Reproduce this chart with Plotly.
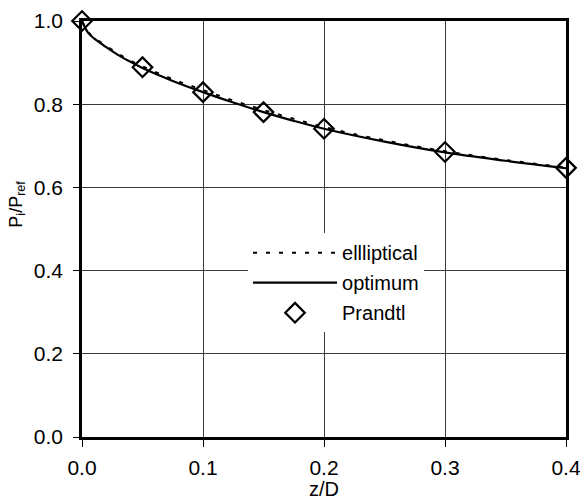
import plotly.graph_objects as go

# Data
x_curve = [0.0, 0.005, 0.01, 0.02, 0.03, 0.04, 0.05, 0.075, 0.1, 0.125, 0.15, 0.175, 0.2, 0.25, 0.3, 0.35, 0.4]
y_optimum = [1.0, 0.972, 0.958, 0.937, 0.918, 0.902, 0.887, 0.856, 0.829, 0.804, 0.781, 0.760, 0.741, 0.710, 0.684, 0.664, 0.646]
y_elliptical = [1.0, 0.974, 0.960, 0.940, 0.921, 0.905, 0.891, 0.860, 0.834, 0.809, 0.786, 0.765, 0.745, 0.713, 0.687, 0.666, 0.648]

x_prandtl = [0.0, 0.05, 0.1, 0.15, 0.2, 0.3, 0.4]
y_prandtl = [1.0, 0.889, 0.829, 0.781, 0.741, 0.685, 0.647]

x_ticks = [0.0, 0.1, 0.2, 0.3, 0.4]
x_ticklabels = ["0.0", "0.1", "0.2", "0.3", "0.4"]
y_ticks = [0.0, 0.2, 0.4, 0.6, 0.8, 1.0]
y_ticklabels = ["0.0", "0.2", "0.4", "0.6", "0.8", "1.0"]

FONT = "Liberation Sans, Arial, Helvetica, sans-serif"

fig = go.Figure()
fig.add_trace(go.Scatter(
    x=x_curve, y=y_elliptical, mode="lines", name="ellliptical", legendgroup="a",
    line=dict(color="black", width=2, dash="4px,9px", shape="spline"),
))
fig.add_trace(go.Scatter(
    x=x_curve, y=y_optimum, mode="lines", name="optimum", legendgroup="b",
    line=dict(color="black", width=2.2, shape="spline"),
))
fig.add_trace(go.Scatter(
    x=x_prandtl, y=y_prandtl, mode="markers", name="Prandtl", legendgroup="c",
    marker=dict(symbol="diamond-open", size=15, color="black", line=dict(width=2.2, color="black")),
    cliponaxis=False,
))

fig.update_layout(
    width=580, height=500,
    margin=dict(l=82, r=14, t=21, b=63, autoexpand=False),
    paper_bgcolor="white", plot_bgcolor="white",
    font=dict(family=FONT, size=20, color="black"),
    showlegend=True,
    legend=dict(
        x=0.343, y=0.49, xanchor="left", yanchor="top",
        bgcolor="white", borderwidth=0,
        itemwidth=84,
        font=dict(size=20, family=FONT),
        traceorder="grouped",
        tracegroupgap=1,
    ),
    xaxis=dict(
        range=[0, 0.4], tickvals=x_ticks, ticktext=x_ticklabels,
        showgrid=True, gridcolor="#3a3a3a", gridwidth=1,
        showline=True, linecolor="black", linewidth=2.5, mirror=True,
        ticks="outside", ticklen=7, tickwidth=1, tickcolor="black",
        ticklabelstandoff=3, automargin=False, ticklabeloverflow="allow",
        zeroline=False,
        title=dict(text="z/D", standoff=0, font=dict(size=20)),
        tickfont=dict(size=21),
    ),
    yaxis=dict(
        range=[0, 1.0], tickvals=y_ticks, ticktext=y_ticklabels,
        showgrid=True, gridcolor="#3a3a3a", gridwidth=1,
        showline=True, linecolor="black", linewidth=2.5, mirror=True,
        ticks="outside", ticklen=6, tickwidth=1, tickcolor="black",
        ticklabelstandoff=6, automargin=False, ticklabeloverflow="allow",
        zeroline=False,
        tickfont=dict(size=21),
    ),
    annotations=[dict(
        text="P<sub>i</sub>/P<sub>ref</sub>", xref="paper", yref="paper",
        x=-0.135, y=0.56, xanchor="center", yanchor="middle",
        textangle=-90, showarrow=False, font=dict(size=18, family=FONT),
    )],
)

fig.write_html("out.html")
